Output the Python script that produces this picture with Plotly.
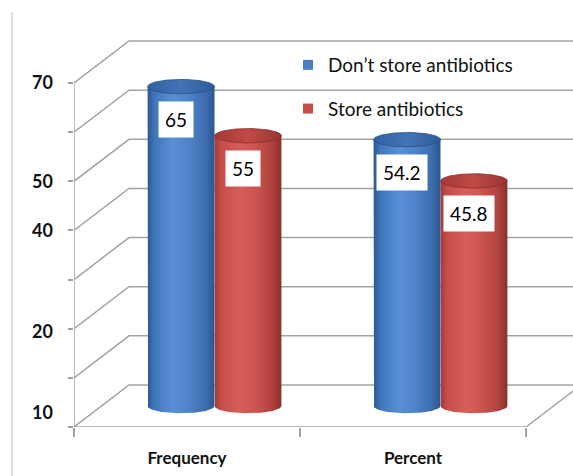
import numpy as np
import plotly.graph_objects as go

# ---------------- data ----------------
categories = ["Frequency", "Percent"]
series_names = ["Don\u2019t store antibiotics", "Store antibiotics"]
dont_store = [65, 54.2]
store = [55, 45.8]
dont_store_labels = ["65", "54.2"]
store_labels = ["55", "45.8"]
grid_values = [0, 10, 20, 30, 40, 50, 60, 70]
ytick_labels = ["10", "20", "40", "50", "70"]
ytick_positions = [2.9, 19.3, 40, 50, 70]

# ---------------- geometry / style ----------------
W, H = 573, 476
ML, MB = 74, 49
PX_PER_CAT = 226.0
PX_PER_UNIT = 4.914
X0 = -0.5
X1 = X0 + (W - ML) / PX_PER_CAT
Y1 = (H - MB) / PX_PER_UNIT
DX = 55 / PX_PER_CAT        # depth offset (x)
DY = 42 / PX_PER_UNIT       # depth offset (y)
BAR_SHIFT = 0.148
RX = 0.148
RY = 7.2 / PX_PER_UNIT
GRID_COLOR = "#a3a3a3"
FONT = "Lato"

blue_scale = [[0, "#2b5993"], [0.1, "#3f76ba"], [0.38, "#5a8fd5"], [0.6, "#5085cb"],
              [0.86, "#3d6eae"], [1, "#2c5790"]]
red_scale = [[0, "#a23a37"], [0.1, "#c64e4a"], [0.38, "#d65e58"], [0.6, "#cc5550"],
             [0.86, "#b0423f"], [1, "#8c2f2c"]]
blue_cap = [[0, "#31609e"], [0.5, "#4274b6"], [1, "#2f5c98"]]
red_cap = [[0, "#a33a37"], [0.5, "#c04a46"], [1, "#9a3532"]]
legend_colors = ["#4a7ec2", "#c4504c"]

fig = go.Figure()

# ---------------- walls / floor ----------------
gx, gy = [], []
n_cat = len(categories)
xr = X0 + n_cat
for v in grid_values:
    gx += [X0, X0 + DX, xr + DX, None]
    gy += [v, v + DY, v + DY, None]
gx += [X0, X0, None]
gy += [grid_values[0], grid_values[-1], None]
gx += [X0, xr, xr + DX, None]
gy += [0, 0, DY, None]
fig.add_trace(go.Scatter(x=gx, y=gy, mode="lines", line=dict(color=GRID_COLOR, width=1.5),
                         hoverinfo="skip", showlegend=False))

# ---------------- cylinders ----------------
theta_bot = np.linspace(np.pi, 2 * np.pi, 60)
theta_full = np.linspace(0, 2 * np.pi, 120)


def add_cylinder(cx, value, scale, cap_scale, edge, label):
    base = DY / 2
    top = value + DY / 2
    xs = [cx - RX, cx - RX] + list(cx + RX * np.cos(theta_bot)) + [cx + RX, cx + RX, cx - RX]
    ys = [top, base] + list(base + RY * np.sin(theta_bot)) + [base, top, top]
    fig.add_trace(go.Scatter(x=xs, y=ys, mode="lines", fill="toself", line=dict(width=0),
                             fillgradient=dict(type="horizontal", colorscale=scale),
                             hoverinfo="skip", showlegend=False))
    fig.add_trace(go.Scatter(x=list(cx + RX * np.cos(theta_full)),
                             y=list(top + RY * np.sin(theta_full)),
                             mode="lines", fill="toself", line=dict(width=0.8, color=edge),
                             fillgradient=dict(type="horizontal", colorscale=cap_scale),
                             hoverinfo="skip", showlegend=False))
    fig.add_annotation(x=cx, y=top, xshift=-5, yshift=-33, text=label, showarrow=False,
                       bgcolor="white", borderpad=6,
                       font=dict(family=FONT, size=19, color="black"))


for i, cat in enumerate(categories):
    add_cylinder(i - BAR_SHIFT + DX / 2, dont_store[i], blue_scale, blue_cap, "#2a4f85",
                 dont_store_labels[i])
    add_cylinder(i + BAR_SHIFT + DX / 2, store[i], red_scale, red_cap, "#8a2d2a",
                 store_labels[i])

# ---------------- legend entries ----------------
for k, name in enumerate(series_names):
    fig.add_trace(go.Scatter(x=[None], y=[None], mode="markers", name=name,
                             legendgroup=f"g{k}",
                             marker=dict(symbol="square", size=10, color=legend_colors[k])))

# left border line of the chart area
fig.add_shape(type="line", xref="paper", yref="paper",
              x0=(12 - ML) / (W - ML), x1=(12 - ML) / (W - ML),
              y0=-MB / (H - MB), y1=1 - 12 / (H - MB),
              line=dict(color="#d4d4d4", width=1.5))

fig.update_layout(
    width=W, height=H,
    margin=dict(l=ML, r=0, t=0, b=MB, pad=0),
    paper_bgcolor="white", plot_bgcolor="white",
    showlegend=True,
    legend=dict(x=(288 - ML) / (W - ML), y=1 - 46 / (H - MB), xanchor="left", yanchor="top",
                font=dict(family=FONT, size=19, color="#111111"),
                tracegroupgap=16, bgcolor="rgba(0,0,0,0)"),
    xaxis=dict(range=[X0, X1], tickvals=list(range(n_cat)), ticktext=categories,
               showgrid=False, zeroline=False, showline=False, ticks="",
               ticklabelstandoff=19,
               tickfont=dict(family=FONT, size=17, color="#111111", weight="bold"),
               minor=dict(tickvals=[X0 + j for j in range(n_cat + 1)], ticks="outside",
                          ticklen=9, tickwidth=1.5, tickcolor=GRID_COLOR),
               fixedrange=True),
    yaxis=dict(range=[0, Y1], tickvals=ytick_positions, ticktext=ytick_labels,
               showgrid=False, zeroline=False, showline=False, ticks="",
               ticklabelstandoff=20,
               tickfont=dict(family=FONT, size=18, color="#111111", weight="bold"),
               minor=dict(tickvals=grid_values, ticks="outside", ticklen=5,
                          tickwidth=1.5, tickcolor=GRID_COLOR),
               fixedrange=True),
)

fig.write_html("out.html")
